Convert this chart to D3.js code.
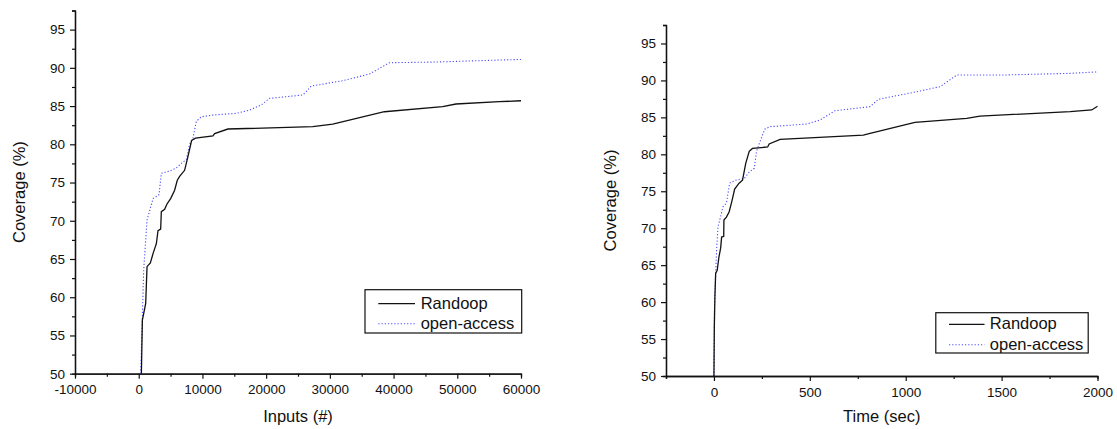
<!DOCTYPE html>
<html>
<head>
<meta charset="utf-8">
<script src="https://cdn.jsdelivr.net/npm/d3@7"></script>
<style>
  html, body { margin: 0; padding: 0; background: #fff; }
  svg { display: block; }
  text { font-family: "Liberation Sans", Arial, sans-serif; fill: #111; }
</style>
</head>
<body>
<svg id="chart" width="1117" height="429"></svg>
<script>
// Coverage growth of Randoop vs. open-access, by number of inputs and by time.
const seriesNames = ["Randoop", "open-access"];
const yLabel = "Coverage (%)";

// Panel 1: coverage vs. number of generated inputs
const inputsRandoop = [
  [418, 50], [574, 57.0], [1096, 59.2], [1305, 64.0], [1827, 64.5], [2245, 65.7],
  [2767, 67.0], [3028, 68.7], [3445, 68.9], [3550, 71.2], [4072, 71.5], [4437, 72.2],
  [5011, 72.9], [5637, 74.0], [6055, 75.3], [6420, 75.8], [7203, 76.6], [7725, 78.4],
  [8300, 80.5], [8926, 80.8], [11650, 81.1], [11912, 81.4], [13997, 82.0],
  [27320, 82.3], [30455, 82.65], [38558, 84.26], [47700, 84.92], [49795, 85.27],
  [56583, 85.57], [60000, 85.7]
];
const inputsOpenAccess = [
  [313, 50], [574, 57.5], [783, 63.6], [1096, 67.5], [1305, 70.1], [2245, 72.9],
  [3184, 73.4], [3550, 76.2], [4855, 76.5], [5899, 76.9], [6681, 77.5], [7464, 78.0],
  [7986, 80.0], [8516, 80.8], [9040, 83.0], [9822, 83.6], [11650, 83.83],
  [15310, 84.05], [17398, 84.48], [19232, 85.14], [20533, 86.01], [25752, 86.45],
  [26285, 86.88], [27068, 87.62], [32024, 88.32], [36207, 89.19], [37508, 89.8],
  [39342, 90.67], [46656, 90.76], [56583, 91.02], [60000, 91.1]
];
const inputsTicks = [-10000, 0, 10000, 20000, 30000, 40000, 50000, 60000];

// Panel 2: coverage vs. elapsed time
const timeRandoop = [
  [0, 50], [2, 56.7], [5, 60.7], [9, 63.9], [17, 64.3], [26, 66.1], [35, 67.3],
  [40, 68.8], [51, 68.9], [52, 71.1], [65, 71.5], [79, 72.2], [93, 73.6], [108, 75.3],
  [131, 76.1], [149, 76.5], [166, 78.8], [184, 80.4], [201, 80.8], [280, 81.0],
  [288, 81.4], [345, 82.03], [779, 82.61], [814, 82.84], [1048, 84.33], [1318, 84.87],
  [1387, 85.18], [1857, 85.77], [1970, 86.0], [2000, 86.5]
];
const timeOpenAccess = [
  [0, 50], [3, 59.4], [9, 63.9], [14, 67.1], [21, 70.2], [35, 71.6], [47, 72.9],
  [65, 73.4], [82, 76.1], [114, 76.5], [157, 76.7], [184, 77.6], [210, 78.1],
  [222, 80.4], [240, 81.7], [265, 83.4], [292, 83.74], [484, 84.1], [553, 84.64],
  [631, 85.9], [814, 86.45], [857, 87.44], [1057, 88.47], [1179, 89.15], [1266, 90.73],
  [1509, 90.73], [1857, 90.96], [2000, 91.15]
];
const timeTicks = [0, 500, 1000, 1500, 2000];

const coverageTicks = [50, 55, 60, 65, 70, 75, 80, 85, 90, 95];

const svg = d3.select("#chart");

// plain ASCII hyphen for negative numbers
const plainNumber = d => String(d);

function styleAxis(ax) {
  ax.select(".domain").attr("stroke", "#111").attr("stroke-width", 1.3);
  ax.selectAll(".tick line").attr("stroke", "#111").attr("stroke-width", 1.2);
  ax.selectAll(".tick text").attr("font-size", 13.5).attr("fill", "#111")
    .attr("font-family", '"Liberation Sans", Arial, sans-serif');
}

function drawPanel(cfg) {
  const x = d3.scaleLinear().domain(cfg.xDomain).range(cfg.xRange);
  const y = d3.scaleLinear().domain([50, 97.5]).range(cfg.yRange);
  const g = svg.append("g");

  // minor ticks
  const xAxisMinor = d3.axisBottom(x).tickValues(cfg.xMinor).tickSize(3).tickFormat("");
  const yAxisMinor = d3.axisLeft(y).tickValues(d3.range(52.5, 98, 5)).tickSize(3).tickFormat("");
  // major ticks
  const xAxis = d3.axisBottom(x).tickValues(cfg.xTicks).tickSize(5).tickSizeOuter(0)
    .tickPadding(6).tickFormat(plainNumber);
  const yAxis = d3.axisLeft(y).tickValues(coverageTicks).tickSize(5).tickSizeOuter(0)
    .tickPadding(5).tickFormat(plainNumber);

  [xAxisMinor, xAxis].forEach(a => {
    styleAxis(g.append("g").attr("transform", `translate(0,${cfg.yRange[0]})`).call(a));
  });
  [yAxisMinor, yAxis].forEach(a => {
    styleAxis(g.append("g").attr("transform", `translate(${cfg.xRange[0]},0)`).call(a));
  });

  // axis titles
  g.append("text")
    .attr("x", (x(cfg.xDomain[0]) + x(cfg.xDomain[1])) / 2)
    .attr("y", 422)
    .attr("text-anchor", "middle")
    .attr("font-size", 16.5)
    .text(cfg.xLabel);
  g.append("text")
    .attr("transform", `translate(${cfg.xRange[0] - 50},${(cfg.yRange[0] + cfg.yRange[1]) / 2}) rotate(-90)`)
    .attr("text-anchor", "middle")
    .attr("font-size", 16.5)
    .text(yLabel);

  // series
  const line = d3.line().x(d => x(d[0])).y(d => y(d[1]));
  g.append("path").datum(cfg.openAccess)
    .attr("fill", "none").attr("stroke", "#4b4bff").attr("stroke-width", 1.1)
    .attr("stroke-dasharray", "1.2,2").attr("d", line);
  g.append("path").datum(cfg.randoop)
    .attr("fill", "none").attr("stroke", "#111").attr("stroke-width", 1.3)
    .attr("d", line);

  // legend
  const L = cfg.legend;
  g.append("rect")
    .attr("x", L.x0).attr("y", L.y0)
    .attr("width", L.x1 - L.x0).attr("height", L.y1 - L.y0)
    .attr("fill", "#fff").attr("stroke", "#111").attr("stroke-width", 1.2);
  const styles = [
    { stroke: "#111", width: 1.3, dash: null },
    { stroke: "#4b4bff", width: 1.1, dash: "1.2,2" }
  ];
  seriesNames.forEach((name, i) => {
    const ly = L.lines[i];
    g.append("line")
      .attr("x1", L.lx0).attr("x2", L.lx1).attr("y1", ly).attr("y2", ly)
      .attr("stroke", styles[i].stroke).attr("stroke-width", styles[i].width)
      .attr("stroke-dasharray", styles[i].dash);
    g.append("text")
      .attr("x", L.tx).attr("y", ly + 5)
      .attr("font-size", 16.5)
      .text(name);
  });
}

drawPanel({
  xDomain: [-10000, 60000], xRange: [75, 521],
  yRange: [373.7, 10.5],
  xTicks: inputsTicks,
  xMinor: d3.range(-5000, 60000, 10000),
  xLabel: "Inputs (#)",
  randoop: inputsRandoop, openAccess: inputsOpenAccess,
  legend: { x0: 365, x1: 521.7, y0: 289.7, y1: 333, lines: [303.7, 323.7], lx0: 378.3, lx1: 415, tx: 420.7 }
});

drawPanel({
  xDomain: [-250, 2000], xRange: [666, 1097.5],
  yRange: [376, 25],
  xTicks: timeTicks,
  xMinor: [-250, 250, 750, 1250, 1750],
  xLabel: "Time (sec)",
  randoop: timeRandoop, openAccess: timeOpenAccess,
  legend: { x0: 935.8, x1: 1088.2, y0: 312.7, y1: 353, lines: [324.3, 344.7], lx0: 949, lx1: 984.5, tx: 989.8 }
});
</script>
</body>
</html>
